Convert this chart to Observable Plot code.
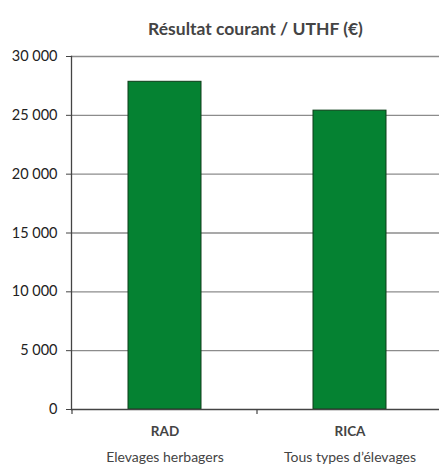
<!DOCTYPE html>
<html>
<head>
<meta charset="utf-8">
<script src="https://cdn.jsdelivr.net/npm/d3@7"></script>
<script src="https://cdn.jsdelivr.net/npm/@observablehq/plot@0.6"></script>
<style>
  html, body { margin: 0; padding: 0; background: #fff; }
  #chart { width: 439px; height: 468px; overflow: hidden; }
  svg { font-family: Lato, "Open Sans", sans-serif; }
</style>
</head>
<body>
<div id="chart"></div>
<script>
const categories = ["RAD", "RICA"];
const subtitles = ["Elevages herbagers", "Tous types d’élevages"];
const values = [27850, 25400];
const yTicks = [0, 5000, 10000, 15000, 20000, 25000, 30000];
const title = "Résultat courant / UTHF (€)";

const data = categories.map((c, i) => ({cat: c, sub: subtitles[i], value: values[i]}));
const fmt = v => d3.format(",")(v).replace(/,/g, " ");

const chart = Plot.plot({
  width: 439,
  height: 468,
  marginTop: 56,
  marginBottom: 59,
  marginLeft: 71,
  marginRight: 0,
  style: {fontSize: "13px", color: "#222", background: "#fff", overflow: "visible"},
  x: {domain: categories, range: [71, 442], paddingInner: 0.606, paddingOuter: 0.303, align: 0.5, axis: null},
  y: {domain: [0, 30000], ticks: yTicks, axis: null},
  marks: [
    Plot.ruleY(yTicks.filter(d => d > 0), {stroke: "#8c8c8c", strokeWidth: 1.3}),
    Plot.barY(data, {x: "cat", y: "value", fill: "#058232", stroke: "#0d3d18", strokeWidth: 1}),
    Plot.axisY({ticks: yTicks, tickFormat: fmt, tickSize: 5, tickPadding: 9, stroke: "#444", fontSize: 14.5, fill: "#222", label: null}),
    Plot.frame({anchor: "left", stroke: "#444", strokeWidth: 1.3}),
    Plot.ruleY([0], {stroke: "#444", strokeWidth: 1.3}),
    Plot.text(data, {x: "cat", text: "cat", frameAnchor: "bottom", dy: 26, fontWeight: "bold", fontSize: 13.5, fill: "#444"}),
    Plot.text(data, {x: "cat", text: "sub", frameAnchor: "bottom", dy: 52, fontSize: 14, fill: "#444"}),
    Plot.text([title], {text: d => d, frameAnchor: "top", dy: -34, fontWeight: "bold", fontSize: 17.5, fill: "#444"})
  ]
});
// band-boundary ticks on the category axis (left edge and between the two categories)
const svg = d3.select(chart);
const xs = chart.scale("x");
const step = xs.step;
const bounds = categories.map(c => xs.apply(c) - (step - xs.bandwidth) / 2);
const y0 = chart.scale("y").apply(0);
svg.append("g").selectAll("line").data(bounds).join("line")
  .attr("x1", d => d).attr("x2", d => d).attr("y1", y0).attr("y2", y0 + 5)
  .attr("stroke", "#444").attr("stroke-width", 1.2);
document.getElementById("chart").appendChild(chart);
</script>
</body>
</html>
